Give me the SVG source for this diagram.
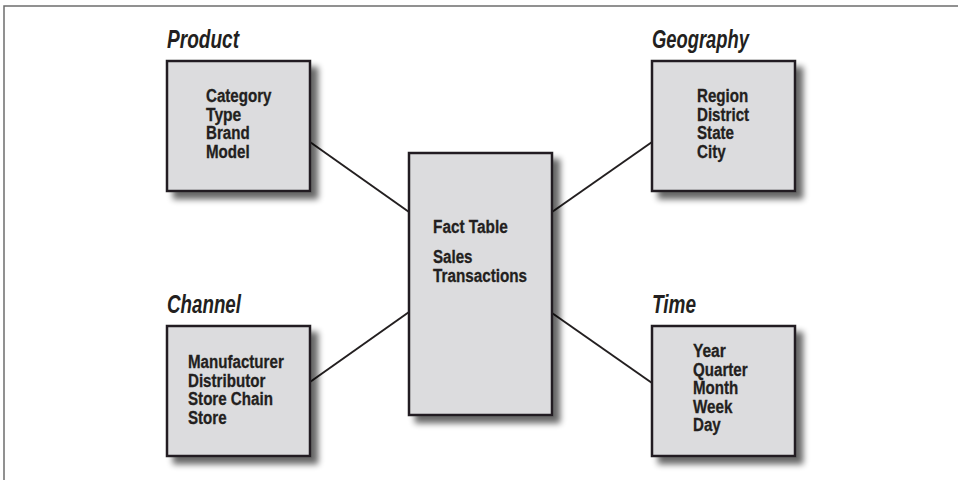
<svg xmlns="http://www.w3.org/2000/svg" width="958" height="480" viewBox="0 0 958 480">
<style>
.frame{stroke:#6d6d6d;stroke-width:1.5;fill:none}
.box{fill:#dcdcde;stroke:#231f20;stroke-width:2.5}
.lbl{font-family:"Liberation Sans",Arial,sans-serif;font-weight:bold;font-style:italic;font-size:25px;fill:#231f20}
.t{font-family:"Liberation Sans",Arial,sans-serif;font-weight:bold;font-size:18px;fill:#231f20;stroke:#231f20;stroke-width:0.3}
.conn line{stroke:#231f20;stroke-width:2}
</style>
<defs>
<filter id="sh" x="-20%" y="-20%" width="150%" height="150%">
<feGaussianBlur in="SourceAlpha" stdDeviation="3"/>
<feOffset dx="7" dy="7" result="b"/>
<feComponentTransfer><feFuncA type="linear" slope="0.6"/></feComponentTransfer>
<feMerge><feMergeNode/><feMergeNode in="SourceGraphic"/></feMerge>
</filter>
</defs>
<rect width="958" height="480" fill="#fff"/>
<polyline class="frame" points="4,480 4,6 958,6"/>
<g id="connectors" class="conn">
<line x1="310" y1="142" x2="409" y2="212"/>
<line x1="552" y1="212" x2="652" y2="142"/>
<line x1="310" y1="382" x2="409" y2="312"/>
<line x1="552" y1="313" x2="652" y2="383"/>
</g>
<g id="product">
<text class="lbl" x="167" y="48" textLength="72" lengthAdjust="spacingAndGlyphs">Product</text>
<rect class="box" x="167" y="61" width="143" height="130" filter="url(#sh)"/>
<text class="t" x="206" y="102" textLength="65.5" lengthAdjust="spacingAndGlyphs">Category</text>
<text class="t" x="206" y="120.5" textLength="35.3" lengthAdjust="spacingAndGlyphs">Type</text>
<text class="t" x="206" y="139" textLength="43.7" lengthAdjust="spacingAndGlyphs">Brand</text>
<text class="t" x="206" y="158" textLength="43.7" lengthAdjust="spacingAndGlyphs">Model</text>
</g>
<g id="geography">
<text class="lbl" x="652" y="48" textLength="97" lengthAdjust="spacingAndGlyphs">Geography</text>
<rect class="box" x="652" y="61" width="143" height="130" filter="url(#sh)"/>
<text class="t" x="697" y="102" textLength="51.2" lengthAdjust="spacingAndGlyphs">Region</text>
<text class="t" x="697" y="120.5" textLength="52.1" lengthAdjust="spacingAndGlyphs">District</text>
<text class="t" x="697" y="139" textLength="37" lengthAdjust="spacingAndGlyphs">State</text>
<text class="t" x="697" y="158" textLength="28.6" lengthAdjust="spacingAndGlyphs">City</text>
</g>
<g id="fact">
<rect class="box" x="409" y="153" width="143" height="262" filter="url(#sh)"/>
<text class="t" x="433" y="233" textLength="74.8" lengthAdjust="spacingAndGlyphs">Fact Table</text>
<text class="t" x="433" y="263" textLength="39.5" lengthAdjust="spacingAndGlyphs">Sales</text>
<text class="t" x="433" y="282" textLength="94.1" lengthAdjust="spacingAndGlyphs">Transactions</text>
</g>
<g id="channel">
<text class="lbl" x="167" y="313" textLength="74" lengthAdjust="spacingAndGlyphs">Channel</text>
<rect class="box" x="167" y="326" width="143" height="130" filter="url(#sh)"/>
<text class="t" x="188" y="368" textLength="95.8" lengthAdjust="spacingAndGlyphs">Manufacturer</text>
<text class="t" x="188" y="386.5" textLength="77.3" lengthAdjust="spacingAndGlyphs">Distributor</text>
<text class="t" x="188" y="405" textLength="84.9" lengthAdjust="spacingAndGlyphs">Store Chain</text>
<text class="t" x="188" y="424" textLength="38.6" lengthAdjust="spacingAndGlyphs">Store</text>
</g>
<g id="time">
<text class="lbl" x="652" y="313" textLength="44" lengthAdjust="spacingAndGlyphs">Time</text>
<rect class="box" x="652" y="326" width="143" height="130" filter="url(#sh)"/>
<text class="t" x="693" y="357" textLength="32.8" lengthAdjust="spacingAndGlyphs">Year</text>
<text class="t" x="693" y="375.5" textLength="54.6" lengthAdjust="spacingAndGlyphs">Quarter</text>
<text class="t" x="693" y="394" textLength="45.3" lengthAdjust="spacingAndGlyphs">Month</text>
<text class="t" x="693" y="412.5" textLength="39.5" lengthAdjust="spacingAndGlyphs">Week</text>
<text class="t" x="693" y="431" textLength="27.7" lengthAdjust="spacingAndGlyphs">Day</text>
</g>
</svg>
